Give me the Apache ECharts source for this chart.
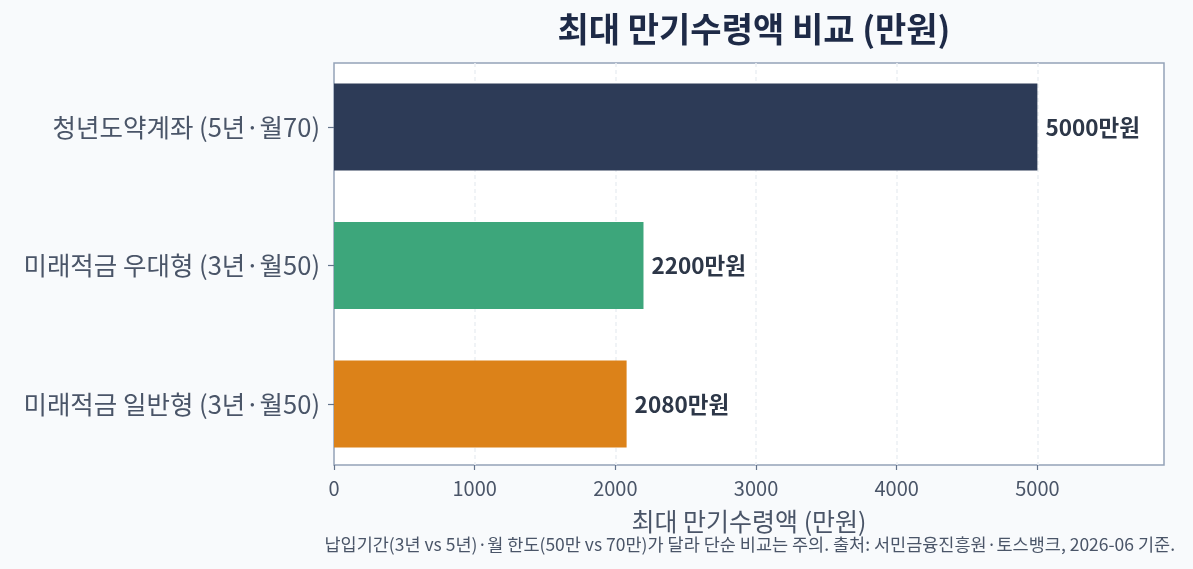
<!DOCTYPE html>
<html><head><meta charset="utf-8">
<script src="https://cdn.jsdelivr.net/npm/echarts@6/dist/echarts.min.js"></script>
<style>html,body{margin:0;padding:0;background:#f8fafc;}#c{width:1193px;height:569px;}</style>
</head><body><div id="c"></div>
<script>
const categories = ['청년도약계좌 (5년·월70)', '미래적금 우대형 (3년·월50)', '미래적금 일반형 (3년·월50)'];
const values = [5000, 2200, 2080];
const barColors = ['#2d3b57', '#3da67b', '#dc8219'];
const xTicks = [0, 1000, 2000, 3000, 4000, 5000];
const titleText = '최대 만기수령액 비교 (만원)';
const xName = '최대 만기수령액 (만원)';
const note = '납입기간(3년 vs 5년)·월 한도(50만 vs 70만)가 달라 단순 비교는 주의. 출처: 서민금융진흥원·토스뱅크, 2026-06 기준.';
const FONT = '"Noto Sans CJK KR", "Noto Sans", sans-serif';

const chart = echarts.init(document.getElementById('c'));
chart.setOption({
  backgroundColor: '#f8fafc',
  animation: false,
  textStyle: { fontFamily: FONT },
  title: [
    { text: titleText, left: 749, top: 7, textAlign: 'center',
      textStyle: { fontSize: 34, fontWeight: 'bold', color: '#1e2a47', fontFamily: FONT } },
    { text: note, right: 13, top: 531,
      textStyle: { fontSize: 17.5, fontWeight: 'normal', color: '#4a5568', fontFamily: FONT } }
  ],
  grid: [
    { left: 334, right: 29, top: 57.75, bottom: 95.75, show: false },
    { left: 334, right: 29, top: 63, bottom: 104, show: true, backgroundColor: '#ffffff', borderColor: '#94a3b8', borderWidth: 1.5 }
  ],
  xAxis: [
    { gridIndex: 0, type: 'value', min: 0, max: 5900, show: false },
    { gridIndex: 1, type: 'value', min: 0, max: 5900, interval: 1000,
      axisLine: { show: false },
      axisTick: { show: true, length: 5, lineStyle: { color: '#64748b', width: 1.2 } },
      axisLabel: { fontSize: 20, color: '#4a5568', margin: 13, fontFamily: FONT, showMaxLabel: false,
        formatter: v => xTicks.includes(v) ? String(v) : '' },
      splitLine: { show: true, showMinLine: false, showMaxLine: false, lineStyle: { color: '#edf0f4', type: [4, 3], width: 1.6 } },
      name: xName, nameLocation: 'middle', nameGap: 44,
      nameTextStyle: { fontSize: 25, color: '#4a5568', fontFamily: FONT } }
  ],
  yAxis: [
    { gridIndex: 0, type: 'category', data: categories, inverse: true,
      axisLine: { show: false },
      axisTick: { show: true, alignWithLabel: true, length: 6, lineStyle: { color: '#64748b', width: 1.2 } },
      axisLabel: { fontSize: 25.5, color: '#4a5568', margin: 14, fontFamily: FONT },
      splitLine: { show: false } },
    { gridIndex: 1, type: 'value', min: 0, max: 1, show: false }
  ],
  series: [{
    type: 'bar', xAxisIndex: 0, yAxisIndex: 0,
    barWidth: 87,
    data: values.map((v, i) => ({ value: v, itemStyle: { color: barColors[i] } })),
    label: { show: true, position: 'right', distance: 8, formatter: p => p.value + '만원',
      fontSize: 22.5, fontWeight: 'bold', color: '#2d3748', fontFamily: FONT }
  }]
});
</script></body></html>
